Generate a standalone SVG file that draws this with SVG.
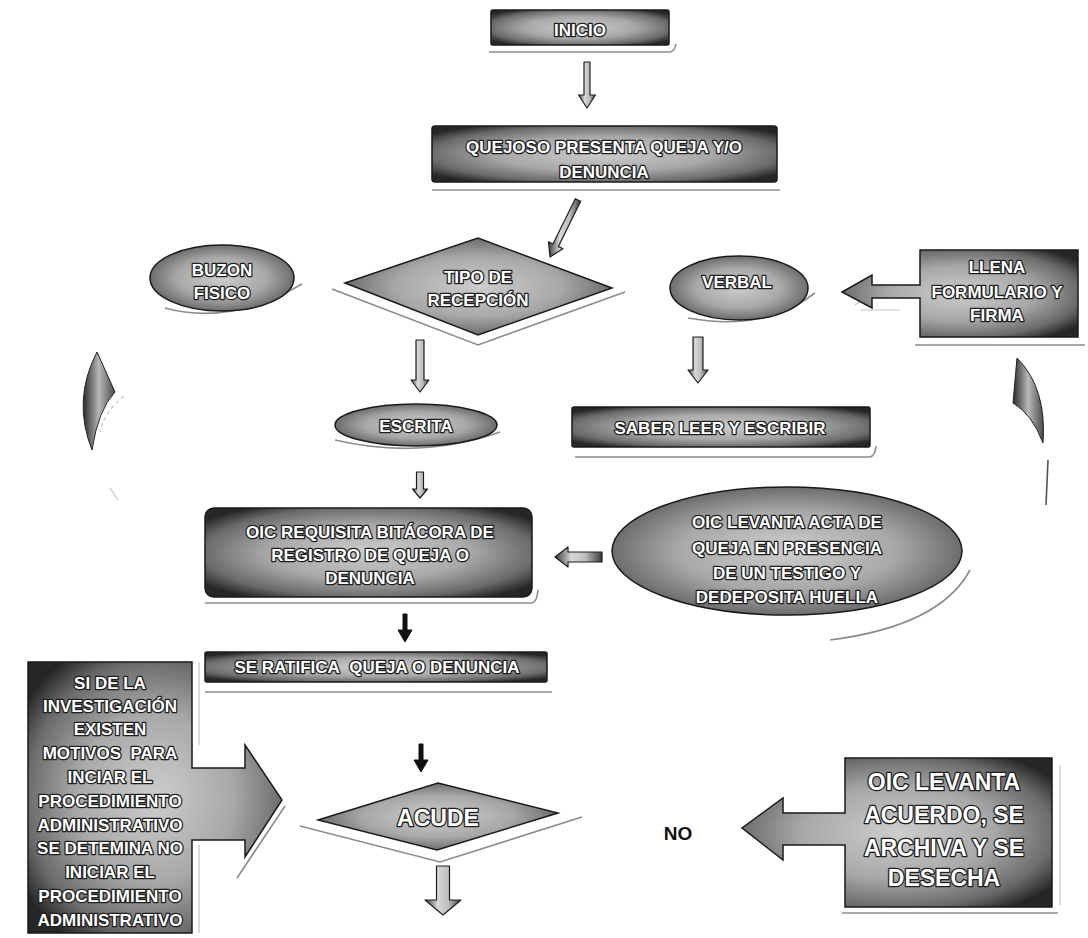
<svg xmlns="http://www.w3.org/2000/svg" width="1088" height="938" viewBox="0 0 1088 938">
  <defs>
    <radialGradient id="gn" cx="50%" cy="50%" r="62%">
      <stop offset="0%" stop-color="#cdcdcd"/>
      <stop offset="50%" stop-color="#a8a8a8"/>
      <stop offset="82%" stop-color="#6a6a6a"/>
      <stop offset="100%" stop-color="#262626"/>
    </radialGradient>
    <linearGradient id="ga" x1="0" y1="0" x2="1" y2="0">
      <stop offset="0%" stop-color="#3a3a3a"/>
      <stop offset="35%" stop-color="#d8d8d8"/>
      <stop offset="65%" stop-color="#bdbdbd"/>
      <stop offset="100%" stop-color="#3a3a3a"/>
    </linearGradient>
    <linearGradient id="gc" x1="0" y1="0" x2="1" y2="0">
      <stop offset="0%" stop-color="#2a2a2a"/>
      <stop offset="50%" stop-color="#b8b8b8"/>
      <stop offset="100%" stop-color="#4a4a4a"/>
    </linearGradient>
    <style>
      .n { fill: url(#gn); stroke: #1a1a1a; stroke-width: 1.5; }
      .sh { fill: none; stroke: #8c8c8c; stroke-width: 1.6; }
      .fa { fill: none; stroke: #c4c4c4; stroke-width: 1.2; }
      .t { font-family: "Liberation Sans", Arial, Helvetica, sans-serif; font-weight: bold; font-size: 17px; fill: #ffffff; stroke: #1e1e1e; stroke-width: 2.6px; stroke-linejoin: round; paint-order: stroke; text-anchor: middle; }
      .big { font-size: 23px; }
      .no { font-family: "Liberation Sans", Arial, Helvetica, sans-serif; font-weight: bold; font-size: 19px; fill: #111; text-anchor: middle; }
      .ah { fill: url(#ga); stroke: #1e1e1e; stroke-width: 1.2; stroke-linejoin: round; }
      .ab { fill: #111; stroke: #111; stroke-width: 1; }
      .cr { fill: url(#gc); stroke: #222; stroke-width: 1; }
    </style>
  </defs>
  <rect width="1088" height="938" fill="#ffffff"/>

  <!-- decorative circular-arrow remnants -->
  <g id="decor">
    <path class="cr" d="M97,352 L115,392 Q98,410 92,450 Q72,400 97,352 Z"/>
    <path class="cr" d="M1017,358 Q1047,388 1043,443 Q1032,414 1013,403 Z"/>
    <path class="fa" d="M124,396 Q104,412 100,432" stroke-dasharray="4 3"/>
    <path class="fa" d="M110,488 L118,500"/>
    <path d="M1048,460 L1046,505" stroke="#555" stroke-width="1.6" fill="none"/>
  </g>

  <!-- shadow / reflection lines -->
  <g id="shadows">
    <path class="sh" d="M489,52 H670 Q675,51 676,44"/>
    <path class="sh" d="M432,190 H780"/>
    <path class="sh" d="M332,289 L478,345 L625,292"/>
    <path class="sh" d="M165,308 Q230,326 302,284"/>
    <path class="sh" d="M688,318 Q765,332 815,293"/>
    <path class="sh" d="M335,440 Q420,460 500,432"/>
    <path class="sh" d="M915,345 H1085"/>
    <path class="sh" d="M575,457 H870 Q875,456 876,446"/>
    <path class="sh" d="M205,603 H532 Q537,602 538,590"/>
    <path class="sh" d="M205,692 H552"/>
    <path class="sh" d="M970,570 Q940,626 830,640"/>
    <path class="sh" d="M300,826 L440,862 L582,817"/>
    <path class="sh" d="M842,913 H1058"/>
    <path class="fa" d="M1060,765 V905"/>
    <path class="fa" d="M199,662 V745 M199,845 V933"/>
    <path class="sh" d="M285,806 L237,878"/>
    <path class="fa" d="M872,292 L855,305 M860,310 H900"/>
  </g>

  <!-- connectors -->
  <g id="connectors">
    <path class="ah" d="M584,62 H590 V95 H595.5 L587,108 L578.5,95 H584 Z"/>
    <path class="ah" d="M575.3,198.7 L580.7,201.3 L558.4,246.6 L562.9,248.8 L550,257 L548.5,241.8 L553,244 Z"/>
    <path class="ah" d="M416,340 H424 V380 H429 L420,392 L411,380 H416 Z"/>
    <path class="ah" d="M693,337 H703 V370 H708 L698,383 L688,370 H693 Z"/>
    <path class="ah" d="M416.5,472 H423.5 V489 H427.5 L420,498 L412.5,489 H416.5 Z"/>
    <path class="ah" d="M602,552 V562 H568 V567 L555,557 L568,547 V552 Z"/>
    <path class="ab" d="M403,614 H407 V630 H412 L405,642 L398,630 H403 Z"/>
    <path class="ab" d="M419,744 H423 V760 H428 L421,772 L414,760 H419 Z"/>
    <path class="ah" d="M436.5,866 H449.5 V900 H461 L443,915 L425,900 H436.5 Z"/>
  </g>

  <!-- nodes -->
  <g id="n-inicio">
    <rect class="n" x="491" y="10" width="178" height="35" rx="2"/>
    <text class="t" x="580" y="36">INICIO</text>
  </g>

  <g id="n-quejoso">
    <rect class="n" x="432" y="126" width="345" height="56" rx="3"/>
    <text class="t" x="604" y="153">QUEJOSO PRESENTA QUEJA Y/O</text>
    <text class="t" x="604" y="178">DENUNCIA</text>
  </g>

  <g id="n-tipo">
    <polygon class="n" points="345,283 478,238 612,288 478,335"/>
    <text class="t" x="478" y="283">TIPO DE</text>
    <text class="t" x="478" y="306">RECEPCIÓN</text>
  </g>

  <g id="n-buzon">
    <ellipse class="n" cx="222" cy="278" rx="72" ry="33"/>
    <text class="t" x="222" y="276">BUZON</text>
    <text class="t" x="222" y="299">FISICO</text>
  </g>

  <g id="n-verbal">
    <ellipse class="n" cx="739" cy="288" rx="69" ry="32"/>
    <text class="t" x="737" y="288">VERBAL</text>
  </g>

  <g id="n-llena">
    <path class="n" d="M920,250 H1078 V337 H920 V298 H872 V308 L842,292 L872,275 V285 H920 Z"/>
    <text class="t" x="997" y="273">LLENA</text>
    <text class="t" x="997" y="298">FORMULARIO Y</text>
    <text class="t" x="997" y="321">FIRMA</text>
  </g>

  <g id="n-escrita">
    <ellipse class="n" cx="416" cy="425" rx="81" ry="21"/>
    <text class="t" x="416" y="432">ESCRITA</text>
  </g>

  <g id="n-saber">
    <rect class="n" x="572" y="407" width="298" height="40" rx="2"/>
    <text class="t" x="720" y="434">SABER LEER Y ESCRIBIR</text>
  </g>

  <g id="n-requisita">
    <rect class="n" x="205" y="508" width="327" height="89" rx="9"/>
    <text class="t" x="370" y="538">OIC REQUISITA BITÁCORA DE</text>
    <text class="t" x="370" y="561">REGISTRO DE QUEJA O</text>
    <text class="t" x="370" y="584">DENUNCIA</text>
  </g>

  <g id="n-acta">
    <ellipse class="n" cx="787" cy="551" rx="175" ry="64"/>
    <text class="t" x="787" y="528">OIC LEVANTA ACTA DE</text>
    <text class="t" x="787" y="554">QUEJA EN PRESENCIA</text>
    <text class="t" x="787" y="579">DE UN TESTIGO Y</text>
    <text class="t" x="787" y="603">DEDEPOSITA HUELLA</text>
  </g>

  <g id="n-ratifica">
    <rect class="n" x="205" y="652" width="342" height="30" rx="2"/>
    <text class="t" x="377" y="673">SE RATIFICA&#160; QUEJA O DENUNCIA</text>
  </g>

  <g id="n-investigacion">
    <path class="n" d="M28,662 H192 V768 H245 V745 L282,800 L245,857 V840 H192 V933 H28 Z"/>
    <text class="t" x="110" y="689">SI DE LA</text>
    <text class="t" x="110" y="712">INVESTIGACIÓN</text>
    <text class="t" x="110" y="735">EXISTEN</text>
    <text class="t" x="110" y="759">MOTIVOS&#160; PARA</text>
    <text class="t" x="110" y="783">INCIAR EL</text>
    <text class="t" x="110" y="807">PROCEDIMIENTO</text>
    <text class="t" x="110" y="831">ADMINISTRATIVO</text>
    <text class="t" x="110" y="854">SE DETEMINA NO</text>
    <text class="t" x="110" y="878">INICIAR EL</text>
    <text class="t" x="110" y="902">PROCEDIMIENTO</text>
    <text class="t" x="110" y="926">ADMINISTRATIVO</text>
  </g>

  <g id="n-acude">
    <polygon class="n" points="318,820 438,783 558,813 437,850"/>
    <text class="t big" x="438" y="826">ACUDE</text>
  </g>

  <g id="n-no">
    <text class="no" x="678" y="840">NO</text>
  </g>

  <g id="n-acuerdo">
    <path class="n" d="M845,758 H1052 V907 H845 V845 H783 V860 L742,828 L783,798 V813 H845 Z"/>
    <text class="t big" x="944" y="790">OIC LEVANTA</text>
    <text class="t big" x="944" y="823">ACUERDO, SE</text>
    <text class="t big" x="944" y="856">ARCHIVA Y SE</text>
    <text class="t big" x="944" y="886">DESECHA</text>
  </g>
</svg>
